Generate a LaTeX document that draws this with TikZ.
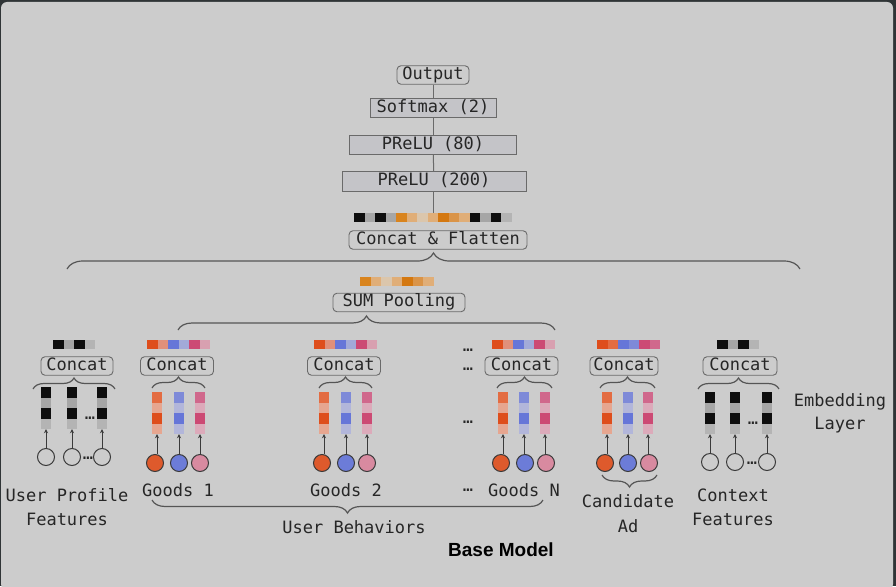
\documentclass[tikz,border=0pt]{standalone}
\usepackage{fontspec}
\setmainfont{DejaVu Sans Mono}
\newfontfamily\boldsans{Liberation Sans}
\usetikzlibrary{decorations.pathreplacing,arrows.meta,calc}
\definecolor{outer}{HTML}{2F3436}
\definecolor{bg}{HTML}{CCCCCC}
\definecolor{txt}{HTML}{262626}
\definecolor{bd}{HTML}{6A6A6A}
\definecolor{boxfill}{HTML}{C4C4C8}
\definecolor{brcol}{HTML}{555555}
\definecolor{arrcol}{HTML}{3A3A3A}
\definecolor{bk}{HTML}{0E0E0E}
\definecolor{gy}{HTML}{A6A6A6}
\definecolor{lg}{HTML}{B4B4B4}
\definecolor{oA}{HTML}{D9841E}
\definecolor{oB}{HTML}{E0AE78}
\definecolor{oC}{HTML}{DBC6AC}
\definecolor{oD}{HTML}{D47810}
\definecolor{oE}{HTML}{DA9448}
\definecolor{rA}{HTML}{DE4E1C}
\definecolor{rB}{HTML}{E0907A}
\definecolor{rC}{HTML}{E36C42}
\definecolor{rD}{HTML}{E6A690}
\definecolor{bA}{HTML}{6676D8}
\definecolor{bB}{HTML}{A2AAD8}
\definecolor{bC}{HTML}{7E8AD8}
\definecolor{bD}{HTML}{B2B6DA}
\definecolor{pA}{HTML}{CC4A74}
\definecolor{pB}{HTML}{D8A0B0}
\definecolor{pC}{HTML}{D0688C}
\definecolor{pD}{HTML}{DCAABA}
\definecolor{cO}{HTML}{DE5A2C}
\definecolor{cB}{HTML}{6C7CD8}
\definecolor{cP}{HTML}{D88AA0}
\newcommand\cellbar[3]{%
  \foreach \c [count=\i from 0] in {#3} {\fill[\c] (#1+\i*10.5, #2) rectangle ++(10.5, 9);}}
\newcommand\cellcol[4]{%
  \node[colnode] (#1) at (#2, #3+21) {};
  \foreach \c [count=\i from 0] in {#4} {\fill[\c] (#2-5, #3+\i*10.5) rectangle ++(10, 10.5);}}
\tikzset{
  every node/.style={font=\fontsize{17}{19}\selectfont, text=txt},
  rbox/.style={draw=bd, line width=0.9pt, rounded corners=4pt, inner xsep=3pt, inner ysep=1.5pt, text height=12pt, text depth=3.5pt},
  fbox/.style={draw=bd, fill=boxfill, line width=0.9pt, inner ysep=2pt, text height=12pt, text depth=3.5pt},
  brc/.style={draw=brcol, line width=1.2pt, decorate, decoration={brace, amplitude=#1}},
  colnode/.style={minimum width=10pt, minimum height=42pt, inner sep=0pt},
  circ/.style={circle, draw=arrcol, line width=1pt, minimum size=17pt, inner sep=0pt},
  arr/.style={draw=arrcol, line width=1pt, -{Stealth[length=4pt,width=4pt]}},
  vline/.style={draw=bd, line width=1pt},
  dots/.style={inner sep=0pt},
  lbl/.style={inner sep=0pt},
}
\begin{document}
\begin{tikzpicture}[x=1pt,y=-1pt]
\useasboundingbox (0,0) rectangle (896,586);
\fill[outer] (0,0) rectangle (896,586);
\fill[bg, rounded corners=6pt] (1,2) rectangle (893,590);
% top stack
\node[rbox, minimum width=72pt] (out) at (433,75) {Output};
\node[fbox, minimum width=126pt] (sm) at (433,108) {Softmax (2)};
\node[fbox, minimum width=167pt] (p80) at (433,145) {PReLU (80)};
\node[fbox, minimum width=184pt] (p200) at (434,181.5) {PReLU (200)};
\coordinate (cfbar) at (433,213);
\draw[vline] (out) -- (sm);
\draw[vline] (sm) -- (p80);
\draw[vline] (p80) -- (p200);
\draw[vline] (p200.south -| cfbar) -- (cfbar);
\cellbar{354}{213}{bk,gy,bk,gy,oA,oB,oC,oB,oD,oE,oB,bk,gy,bk,lg}
\node[rbox, minimum width=178pt] (cf) at (438,240) {Concat \& Flatten};
\coordinate (bigL) at (67,269);
\coordinate (bigR) at (800,269);
\draw[brc=16] (bigL) -- (bigR);
% sum pooling
\cellbar{360}{277}{oA,oB,oC,oB,oD,oE,oB}
\node[rbox, minimum width=132pt] (sp) at (399,302.5) {SUM Pooling};
\coordinate (spL) at (178,330);
\coordinate (spR) at (555,330);
\draw[brc=14] (spL) -- (spR);
% user profile
\cellbar{53}{340}{bk,gy,bk,lg}
\node[rbox, minimum width=72pt] (ucat) at (77,366) {Concat};
\coordinate (ubL) at (33,389); \coordinate (ubR) at (115,389);
\draw[brc=11] (ubL) -- (ubR);
\cellcol{uc1}{46}{387}{bk,gy,bk,lg}
\cellcol{uc2}{72}{387}{bk,gy,bk,lg}
\cellcol{uc3}{102}{387}{bk,gy,bk,lg}
\node[dots] (ud1) at (90,418) {…};
\node[circ] (u1) at (46,457) {};
\node[circ] (u2) at (72,457) {};
\node[circ] (u3) at (102,457) {};
\node[dots] (ud2) at (88,458) {…};
\draw[arr] (u1) -- (uc1);
\draw[arr] (u2) -- (uc2);
\draw[arr] (u3) -- (uc3);
\node[lbl] (ut1) at (67,495) {User Profile};
\node[lbl] (ut2) at (67,519) {Features};
% goods 1
\cellbar{147}{340}{rA,rB,bA,bB,pA,pB}
\node[rbox, minimum width=73pt] (g1cat) at (177,366) {Concat};
\coordinate (g1bL) at (152,388); \coordinate (g1bR) at (205,388);
\draw[brc=11] (g1bL) -- (g1bR);
\cellcol{g1c1}{157}{392}{rC,rD,rA,rD}
\cellcol{g1c2}{179}{392}{bC,bD,bA,bD}
\cellcol{g1c3}{200}{392}{pC,pD,pA,pD}
\node[circ, fill=cO] (g1a) at (155,463) {};
\node[circ, fill=cB] (g1b) at (179,463) {};
\node[circ, fill=cP] (g1d) at (200,463) {};
\draw[arr] (g1a.north -| g1c1) -- (g1c1);
\draw[arr] (g1b) -- (g1c2);
\draw[arr] (g1d) -- (g1c3);
\node[lbl] (g1t) at (178,490) {Goods 1};
% goods 2
\cellbar{314}{340}{rA,rB,bA,bB,pA,pB}
\node[rbox, minimum width=73pt] (g2cat) at (344,366) {Concat};
\coordinate (g2bL) at (319,388); \coordinate (g2bR) at (372,388);
\draw[brc=11] (g2bL) -- (g2bR);
\cellcol{g2c1}{324}{392}{rC,rD,rA,rD}
\cellcol{g2c2}{346}{392}{bC,bD,bA,bD}
\cellcol{g2c3}{367}{392}{pC,pD,pA,pD}
\node[circ, fill=cO] (g2a) at (322,463) {};
\node[circ, fill=cB] (g2b) at (346,463) {};
\node[circ, fill=cP] (g2d) at (367,463) {};
\draw[arr] (g2a.north -| g2c1) -- (g2c1);
\draw[arr] (g2b) -- (g2c2);
\draw[arr] (g2d) -- (g2c3);
\node[lbl] (g2t) at (346,490) {Goods 2};
% goods N
\node[dots] (nd1) at (468,350) {…};
\node[dots] (nd2) at (468,369) {…};
\node[dots] (nd3) at (468,422) {…};
\node[dots] (nd4) at (468,490) {…};
\cellbar{492}{340}{rA,rB,bA,bB,pA,pB}
\node[rbox, minimum width=73pt] (gncat) at (521.5,366) {Concat};
\coordinate (gnbL) at (497,388); \coordinate (gnbR) at (552,388);
\draw[brc=11] (gnbL) -- (gnbR);
\cellcol{gnc1}{503}{392}{rC,rD,rA,rD}
\cellcol{gnc2}{524}{392}{bC,bD,bA,bD}
\cellcol{gnc3}{545}{392}{pC,pD,pA,pD}
\node[circ, fill=cO] (gna) at (501,463) {};
\node[circ, fill=cB] (gnb) at (525,463) {};
\node[circ, fill=cP] (gnd) at (546,463) {};
\draw[arr] (gna.north -| gnc1) -- (gnc1);
\draw[arr] (gnb.north -| gnc2) -- (gnc2);
\draw[arr] (gnd.north -| gnc3) -- (gnc3);
\node[lbl] (gnt) at (524,490) {Goods N};
% user behaviours brace
\coordinate (ubhL) at (543,500); \coordinate (ubhR) at (152,500);
\draw[brc=13] (ubhL) -- (ubhR);
\node[lbl] (ubt) at (354,527) {User Behaviors};
% candidate ad
\cellbar{597}{340}{rA,rC,bA,bC,pA,pC}
\node[rbox, minimum width=68pt] (cacat) at (624,366) {Concat};
\coordinate (cabL) at (600,388); \coordinate (cabR) at (655,388);
\draw[brc=11] (cabL) -- (cabR);
\cellcol{cac1}{607}{392}{rC,rD,rA,rD}
\cellcol{cac2}{628}{392}{bC,bD,bA,bD}
\cellcol{cac3}{648}{392}{pC,pD,pA,pD}
\node[circ, fill=cO] (caa) at (605,463) {};
\node[circ, fill=cB] (cab) at (628,463) {};
\node[circ, fill=cP] (cad) at (649,463) {};
\draw[arr] (caa.north -| cac1) -- (cac1);
\draw[arr] (cab) -- (cac2);
\draw[arr] (cad.north -| cac3) -- (cac3);
\coordinate (cdL) at (657,475); \coordinate (cdR) at (602,475);
\draw[brc=12] (cdL) -- (cdR);
\node[lbl] (cat1) at (628,501) {Candidate};
\node[lbl] (cat2) at (628,526) {Ad};
% context
\cellbar{717}{340}{bk,gy,bk,lg}
\node[rbox, minimum width=74pt] (cxcat) at (740,366) {Concat};
\coordinate (cxbL) at (698,389); \coordinate (cxbR) at (779,389);
\draw[brc=11] (cxbL) -- (cxbR);
\cellcol{cxc1}{710}{392}{bk,gy,bk,lg}
\cellcol{cxc2}{735}{392}{bk,gy,bk,lg}
\cellcol{cxc3}{767}{392}{bk,gy,bk,lg}
\node[dots] (cxd1) at (753,423) {…};
\node[circ] (cx1) at (710,462) {};
\node[circ] (cx2) at (735,462) {};
\node[circ] (cx3) at (767,462) {};
\node[dots] (cxd2) at (752,463) {…};
\draw[arr] (cx1) -- (cxc1);
\draw[arr] (cx2) -- (cxc2);
\draw[arr] (cx3) -- (cxc3);
\node[lbl] (cxt1) at (733,495) {Context};
\node[lbl] (cxt2) at (733,519) {Features};
% embedding layer
\node[lbl] (emb1) at (840,402) {Embedding};
\node[lbl] (emb2) at (840,425) {Layer};
% base model
\node[lbl, font=\boldsans\bfseries\fontsize{19}{21}\selectfont, text=black] (bm) at (501,550) {Base Model};
\end{tikzpicture}
\end{document}
